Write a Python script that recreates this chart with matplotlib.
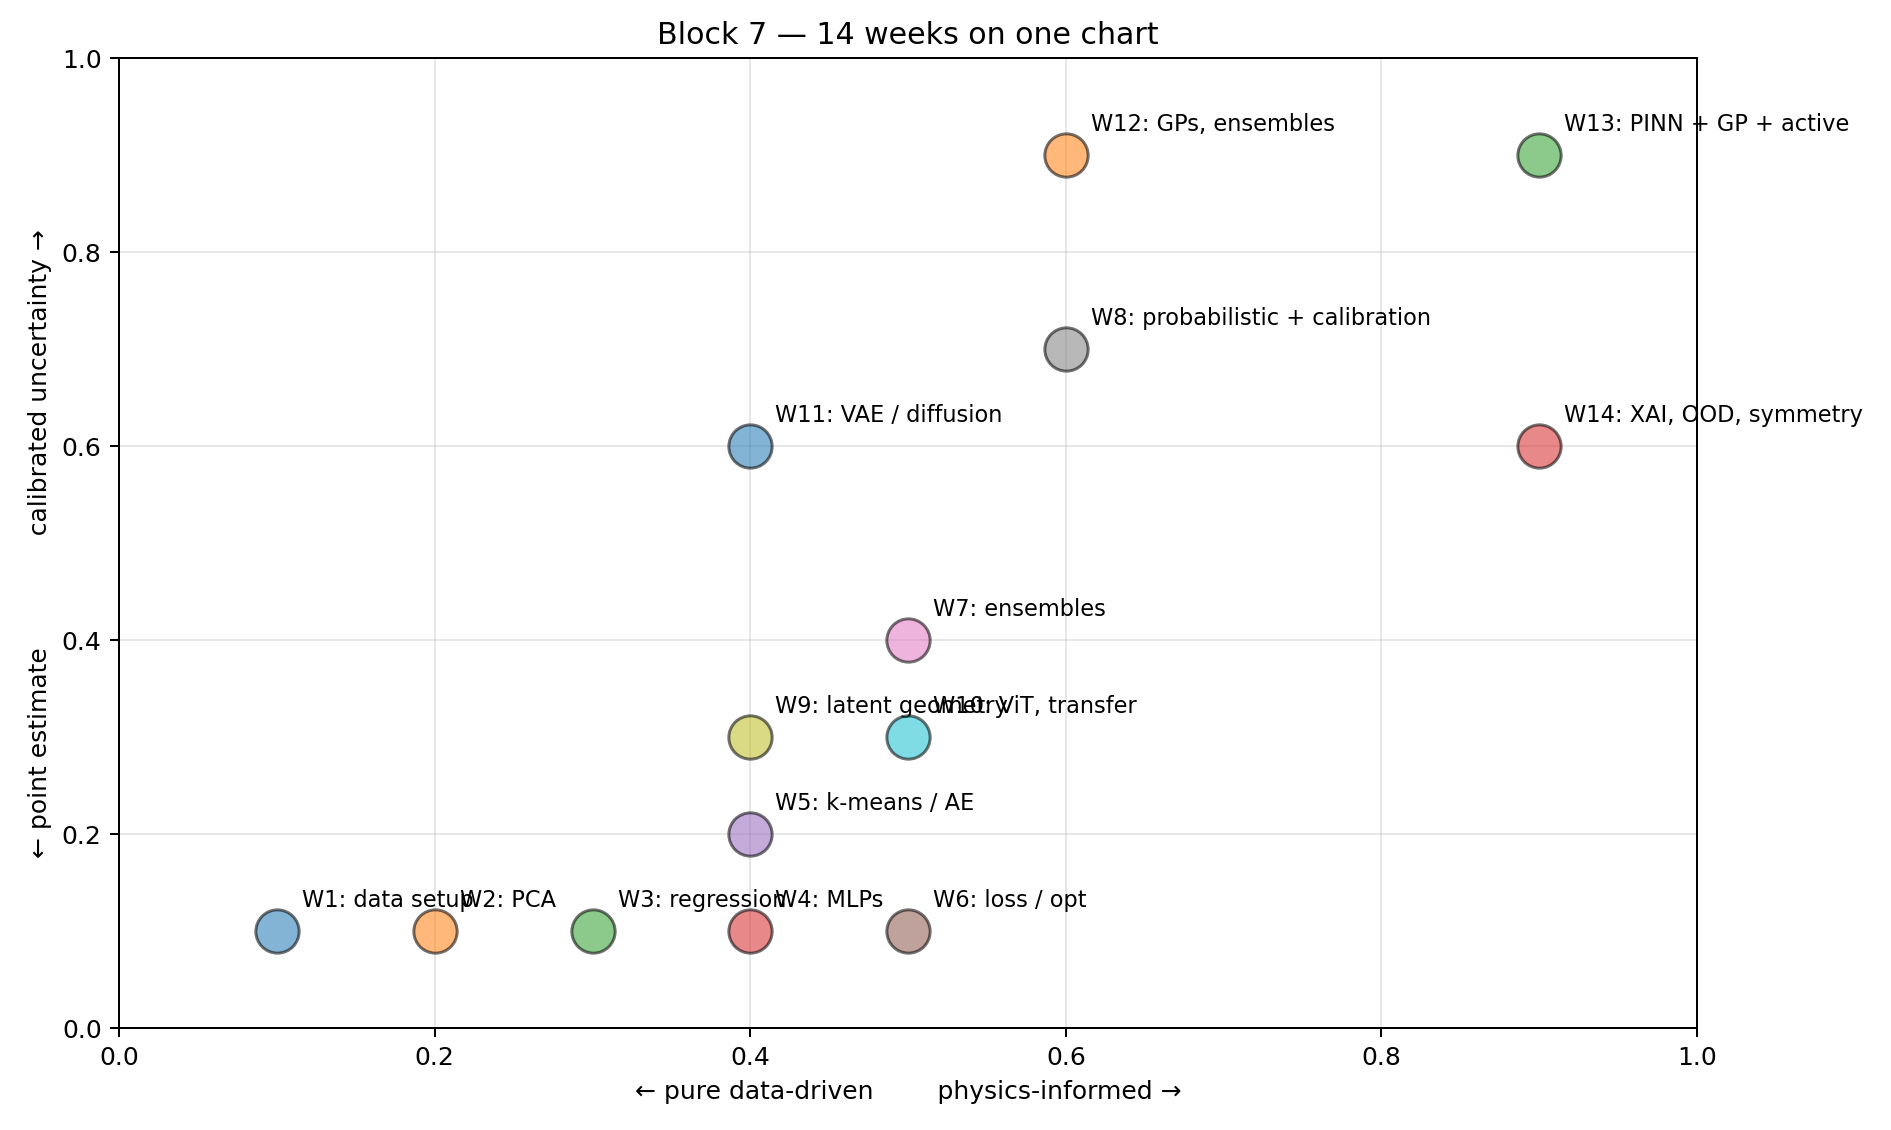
import matplotlib
matplotlib.use("Agg")
import matplotlib.pyplot as plt

labels = ["W1: data setup", "W2: PCA", "W3: regression", "W4: MLPs",
          "W5: k-means / AE", "W6: loss / opt", "W7: ensembles",
          "W8: probabilistic + calibration", "W9: latent geometry",
          "W10: ViT, transfer", "W11: VAE / diffusion", "W12: GPs, ensembles",
          "W13: PINN + GP + active", "W14: XAI, OOD, symmetry"]
xs = [0.1, 0.2, 0.3, 0.4, 0.4, 0.5, 0.5, 0.6, 0.4, 0.5, 0.4, 0.6, 0.9, 0.9]
ys = [0.1, 0.1, 0.1, 0.1, 0.2, 0.1, 0.4, 0.7, 0.3, 0.3, 0.6, 0.9, 0.9, 0.6]

colors = plt.rcParams["axes.prop_cycle"].by_key()["color"]

fig, ax = plt.subplots(figsize=(10.51, 6.28), dpi=180)
for i, (x, y, lab) in enumerate(zip(xs, ys, labels)):
    ax.scatter(x, y, s=300, color=colors[i % 10], alpha=0.55,
               edgecolors="black", linewidths=1.2, zorder=3)
    ax.annotate(lab, (x, y), xytext=(10, 10), textcoords="offset points", fontsize=9)

ax.set_xlim(0, 1)
ax.set_ylim(0, 1)
ax.grid(alpha=0.3)
ax.set_xlabel("← pure data-driven        physics-informed →")
ax.set_ylabel("← point estimate              calibrated uncertainty →")
ax.set_title("Block 7 — 14 weeks on one chart")
fig.subplots_adjust(left=0.063, right=0.897, bottom=0.09, top=0.948)
fig.savefig("out.png", dpi=180)
